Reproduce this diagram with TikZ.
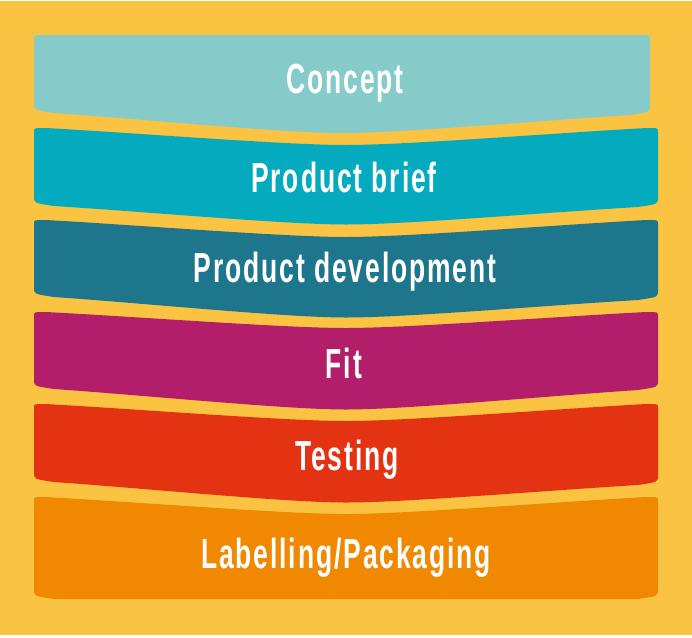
\documentclass[tikz,border=0pt]{standalone}
\usepackage{fontspec}
\newfontfamily\handfont[FakeStretch=0.63,LetterSpace=4.5]{Liberation Sans}
\definecolor{bgyellow}{HTML}{FBC342}
\definecolor{cconcept}{HTML}{86CBCA}
\definecolor{cbrief}{HTML}{04ABBE}
\definecolor{cdev}{HTML}{1D768C}
\definecolor{cfit}{HTML}{B21E6A}
\definecolor{ctest}{HTML}{E33312}
\definecolor{clabel}{HTML}{F08800}
% #1 colour, #2 L, #3 R, #4 top y, #5 top dip, #6 bottom-left y, #7 bottom-right y, #8 bottom dip
\newcommand{\drawband}[8]{%
  \pgfmathsetmacro{\bL}{#2}\pgfmathsetmacro{\bR}{#3}%
  \pgfmathsetmacro{\bC}{(#2+#3)/2}%
  \pgfmathsetmacro{\yt}{#4}\pgfmathsetmacro{\dt}{#5}%
  \pgfmathsetmacro{\ybl}{#6}\pgfmathsetmacro{\ybr}{#7}\pgfmathsetmacro{\db}{#8}%
  \pgfmathsetmacro{\ybc}{(#6+#7)/2+#8}%
  \fill[#1]
    (\bL,\yt+4) .. controls (\bL,\yt) .. (\bL+12,\yt)
    .. controls ({\bL+12+(\bC-\bL-12)/3},{\yt+\dt/3}) and ({\bC-60},{\yt+\dt}) .. (\bC,\yt+\dt)
    .. controls ({\bC+60},{\yt+\dt}) and ({\bR-12-(\bR-12-\bC)/3},{\yt+\dt/3}) .. (\bR-12,\yt)
    .. controls (\bR,\yt) .. (\bR,\yt+4)
    -- (\bR,\ybr-4)
    .. controls (\bR,\ybr+2) .. (\bR-20,\ybr+5)
    .. controls ({\bR-20-(\bR-20-\bC)/3},{\ybr+5+(\ybc-\ybr-5)/3}) and ({\bC+60},\ybc) .. (\bC,\ybc)
    .. controls ({\bC-60},\ybc) and ({\bL+20+(\bC-\bL-20)/3},{\ybl+5+(\ybc-\ybl-5)/3}) .. (\bL+20,\ybl+5)
    .. controls (\bL,\ybl+2) .. (\bL,\ybl-4)
    -- cycle;%
}
\begin{document}
\begin{tikzpicture}[x=1pt,y=-1pt,
  bandlabel/.style={text=white,anchor=base,inner sep=0pt,
    font=\handfont\bfseries\fontsize{42}{48}\selectfont}]
\useasboundingbox (0,0) rectangle (692,637);
\fill[white] (0,0) rectangle (692,637);
\fill[bgyellow] (0,1) rectangle (692,635);
\drawband{cconcept}{34}{650}{35}{0}{108}{110}{24}
\drawband{cbrief}{34}{658}{128}{17}{201}{202}{23}
\drawband{cdev}{34}{658}{220}{17}{292}{295}{24}
\drawband{cfit}{34}{658}{312}{16}{384}{385}{25}
\drawband{ctest}{34}{658}{404}{17}{477}{480}{24}
\drawband{clabel}{34}{658}{497}{17}{594}{594}{5}
\node[bandlabel] (concept) at (345,93) {Concept};
\node[bandlabel] (brief) at (344,192) {Product brief};
\node[bandlabel] (dev) at (345,282) {Product development};
\node[bandlabel] (fit) at (344,378) {Fit};
\node[bandlabel] (testing) at (347,470) {Testing};
\node[bandlabel] (labelling) at (346,568) {Labelling/Packaging};
\end{tikzpicture}
\end{document}
